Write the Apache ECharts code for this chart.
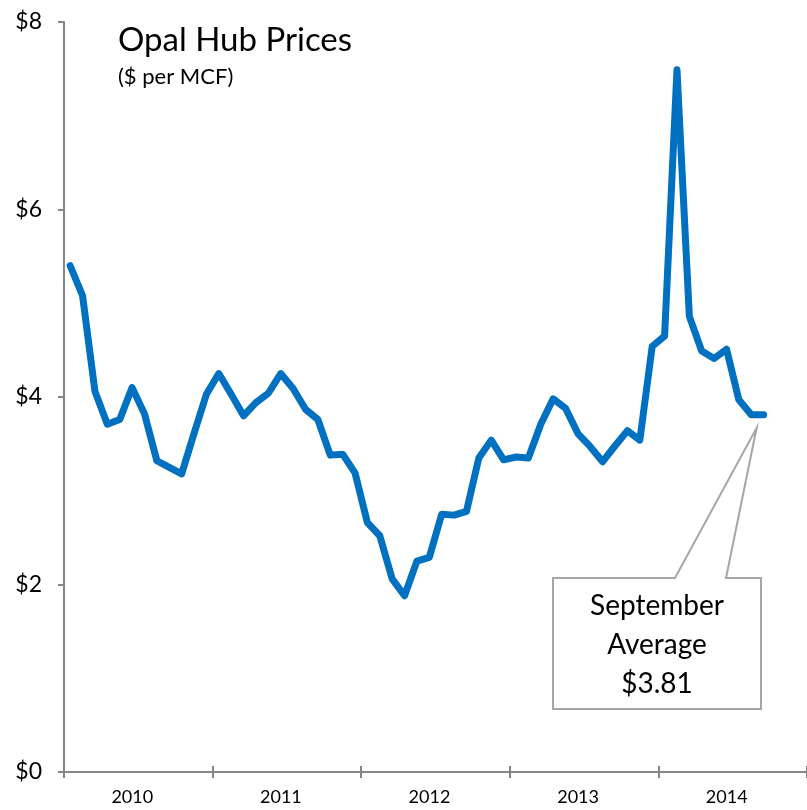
<!DOCTYPE html>
<html>
<head>
<meta charset="utf-8">
<script src="https://cdn.jsdelivr.net/npm/echarts@6/dist/echarts.min.js"></script>
<style>
html,body{margin:0;padding:0;background:#fff;}
#chart{width:807px;height:810px;}
</style>
</head>
<body>
<div id="chart"></div>
<script>
// ---- data ----
var years = ['2010', '2011', '2012', '2013', '2014'];
var yTicks = [0, 2, 4, 6, 8];
// monthly prices Jan 2010 .. Sep 2014 ($ per MCF)
var prices = [
  5.40, 5.08, 4.06, 3.71, 3.76, 4.10, 3.82, 3.32, 3.25, 3.18, 3.61, 4.03,
  4.25, 4.03, 3.80, 3.94, 4.04, 4.25, 4.09, 3.87, 3.76, 3.38, 3.39, 3.19,
  2.66, 2.52, 2.06, 1.88, 2.25, 2.29, 2.75, 2.74, 2.78, 3.35, 3.54, 3.33,
  3.36, 3.35, 3.71, 3.98, 3.88, 3.61, 3.47, 3.31, 3.48, 3.64, 3.54, 4.54,
  4.65, 7.49, 4.86, 4.49, 4.41, 4.51, 3.97, 3.81, 3.81
];
var calloutLines = ['September', 'Average', '$3.81'];

// month categories spanning the full five years
var months = [];
years.forEach(function (y) {
  for (var m = 1; m <= 12; m++) months.push(y + '-' + (m < 10 ? '0' + m : m));
});

var axisGray = '#868686';
var chart = echarts.init(document.getElementById('chart'), null, {renderer: 'canvas'});

var option = {
  animation: false,
  backgroundColor: '#ffffff',
  title: {
    text: 'Opal Hub Prices',
    subtext: '($ per MCF)',
    left: 113,
    top: 19,
    itemGap: 9,
    textStyle: {fontFamily: 'Lato', fontSize: 33, fontWeight: 'normal', color: '#000'},
    subtextStyle: {fontFamily: 'Lato', fontSize: 22, color: '#000'}
  },
  grid: {left: 64, top: 22, width: 746, bottom: 38, containLabel: false},
  xAxis: [
    {
      type: 'category', data: months, boundaryGap: true, show: false
    },
    {
      type: 'category', data: years, boundaryGap: true, position: 'bottom',
      axisLine: {show: true, onZero: false, lineStyle: {color: axisGray, width: 2}},
      axisTick: {show: true, inside: false, length: 6, lineStyle: {color: axisGray, width: 2}},
      axisLabel: {fontFamily: 'Lato', fontSize: 18, color: '#000', margin: 16, padding: [0, 12, 0, 0]},
      splitLine: {show: false}
    },
    {
      type: 'category', data: years, boundaryGap: true, position: 'bottom',
      axisLine: {show: false},
      axisTick: {show: true, inside: true, length: 6, lineStyle: {color: axisGray, width: 2}},
      axisLabel: {show: false},
      splitLine: {show: false}
    }
  ],
  yAxis: {
    type: 'value', min: yTicks[0], max: yTicks[yTicks.length - 1], interval: 2,
    axisLine: {show: true, lineStyle: {color: axisGray, width: 2}},
    axisTick: {show: true, inside: false, length: 6, lineStyle: {color: axisGray, width: 2}},
    axisLabel: {fontFamily: 'Lato', fontSize: 23, color: '#000', margin: 22,
      formatter: function (v) { return '$' + v; }},
    splitLine: {show: false}
  },
  series: [{
    type: 'line', xAxisIndex: 0, yAxisIndex: 0, data: prices,
    symbol: 'none', smooth: false,
    lineStyle: {color: '#0070c0', width: 7, cap: 'round', join: 'round'}
  }]
};
chart.setOption(option);

// callout anchored just below the last data point
var lastIdx = prices.length - 1;
var p = chart.convertToPixel({xAxisIndex: 0, yAxisIndex: 0}, [lastIdx, prices[lastIdx]]);
var tip = [p[0] - 7, p[1] + 13];
var bx0 = 553, bx1 = 761, by0 = 578, by1 = 709;
chart.setOption({
  graphic: [
    {
      type: 'polygon',
      shape: {points: [[bx0, by0], [675, by0], tip, [726, by0], [bx1, by0], [bx1, by1], [bx0, by1]]},
      style: {fill: '#ffffff', stroke: '#a6a6a6', lineWidth: 2},
      z: 10
    },
    {
      type: 'text',
      x: (bx0 + bx1) / 2,
      y: (by0 + by1) / 2 + 1,
      style: {
        text: calloutLines.join('\n'),
        font: '28px Lato',
        fill: '#000',
        align: 'center',
        verticalAlign: 'middle',
        lineHeight: 39
      },
      z: 11
    }
  ]
});
</script>
</body>
</html>
